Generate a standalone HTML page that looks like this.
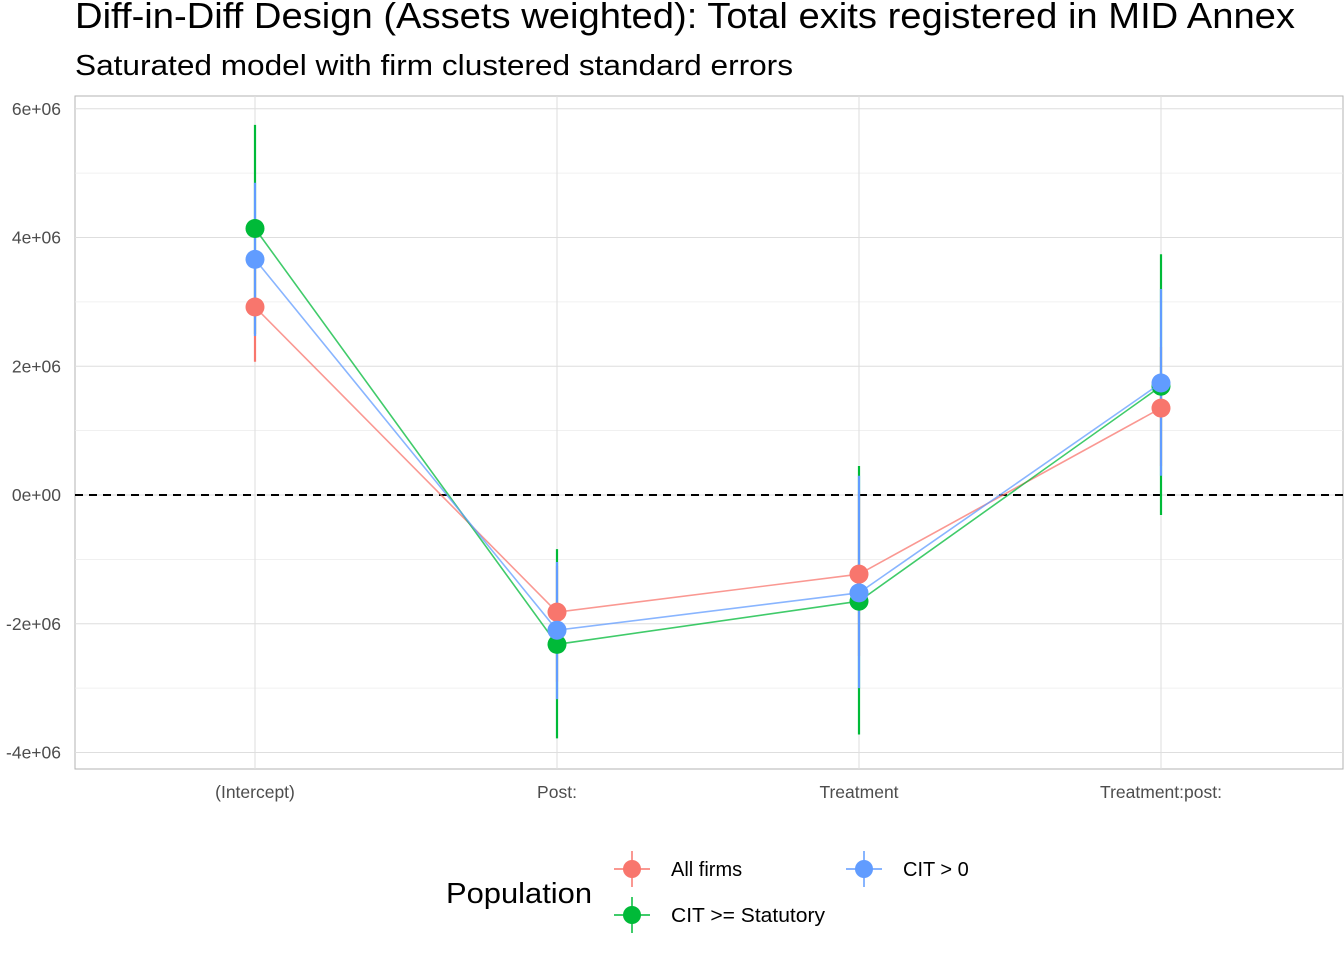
<!DOCTYPE html>
<html><head><meta charset="utf-8"><style>
body{margin:0;background:#fff;width:1344px;height:960px;overflow:hidden}
svg{font-family:"Liberation Sans",sans-serif}
</style></head><body>
<svg id="chart" width="1344" height="960">
<text x="75" y="28" font-size="36" textLength="1220" lengthAdjust="spacingAndGlyphs" fill="#000">Diff-in-Diff Design (Assets weighted): Total exits registered in MID Annex</text>
<text x="75" y="75" font-size="29" textLength="718" lengthAdjust="spacingAndGlyphs" fill="#000">Saturated model with firm clustered standard errors</text>
<rect x="75" y="96" width="1268" height="673" fill="#fff" stroke="#b3b3b3"/>
<g id="grid"></g><g id="marks"></g><g id="axes"></g>
<g>
<text x="446" y="903" font-size="29" textLength="146" lengthAdjust="spacingAndGlyphs">Population</text>
<g><line x1="632" y1="851" x2="632" y2="887" stroke="#F8766D" stroke-width="1.5"/><line x1="614" y1="869" x2="650" y2="869" stroke="#F8766D" stroke-width="1.5"/><circle cx="632" cy="869" r="9" fill="#F8766D"/><text x="671" y="876" font-size="20">All firms</text></g>
<g><line x1="632" y1="897" x2="632" y2="933" stroke="#00BA38" stroke-width="1.5"/><line x1="614" y1="915" x2="650" y2="915" stroke="#00BA38" stroke-width="1.5"/><circle cx="632" cy="915" r="9" fill="#00BA38"/><text x="671" y="922" font-size="20" textLength="154" lengthAdjust="spacingAndGlyphs">CIT &gt;= Statutory</text></g>
<g><line x1="864" y1="851" x2="864" y2="887" stroke="#619CFF" stroke-width="1.5"/><line x1="846" y1="869" x2="882" y2="869" stroke="#619CFF" stroke-width="1.5"/><circle cx="864" cy="869" r="9" fill="#619CFF"/><text x="903" y="876" font-size="20">CIT &gt; 0</text></g>
</g>
</svg>
<script>
const categories=["(Intercept)","Post:","Treatment","Treatment:post:"];
const yTicks=[-4e6,-2e6,0,2e6,4e6,6e6];
const yTickLabels=["-4e+06","-2e+06","0e+00","2e+06","4e+06","6e+06"];
const seriesNames=["All firms","CIT >= Statutory","CIT > 0"];
const allFirmsEst=[2.92e6,-1.82e6,-1.23e6,1.35e6];
const allFirmsLo=[2.07e6,-2.9e6,-2.5e6,0.45e6];
const allFirmsHi=[3.8e6,-1.1e6,0.05e6,2.3e6];
const citStatEst=[4.14e6,-2.32e6,-1.65e6,1.69e6];
const citStatLo=[2.5e6,-3.78e6,-3.72e6,-0.31e6];
const citStatHi=[5.75e6,-0.84e6,0.45e6,3.74e6];
const citPosEst=[3.66e6,-2.1e6,-1.52e6,1.74e6];
const citPosLo=[2.47e6,-3.17e6,-3.0e6,0.3e6];
const citPosHi=[4.85e6,-1.04e6,0.3e6,3.2e6];
const colors=["#F8766D","#00BA38","#619CFF"];
const NS="http://www.w3.org/2000/svg";
function y(v){return 495-v*(128.75/2e6);}
function x(i){return 255+i*302;}
function mk(p,t,a){const e=document.createElementNS(NS,t);for(const k in a)e.setAttribute(k,a[k]);p.appendChild(e);return e;}
const grid=document.getElementById('grid'),marks=document.getElementById('marks'),axes=document.getElementById('axes');
for(let i=0;i<yTicks.length;i++){
 const l=mk(grid,'line',{x1:75,x2:1343,y1:y(yTicks[i]),y2:y(yTicks[i]),stroke:'#dedede','stroke-width':1});
 
 
 if(i<yTicks.length-1){const m=mk(grid,'line',{x1:75,x2:1343,y1:y((yTicks[i]+yTicks[i+1])/2),y2:y((yTicks[i]+yTicks[i+1])/2),stroke:'#ececec','stroke-width':0.8});
 
 }
 const t=mk(axes,'text',{x:61,y:y(yTicks[i])+6,'text-anchor':'end','font-size':17.5,fill:'#4d4d4d'});
 t.textContent=yTickLabels[i];
 
 
}
categories.forEach((c,i)=>{
 const l=mk(grid,'line',{x1:x(i),x2:x(i),y1:96,y2:769,stroke:'#dedede','stroke-width':1});
 
 
 const t=mk(axes,'text',{x:x(i),y:798,'text-anchor':'middle','font-size':17.5,fill:'#4d4d4d'});
 t.textContent=c;
 
 
});
const z=mk(grid,'line',{x1:75,x2:1343,y1:y(0),y2:y(0),stroke:'#000','stroke-width':2,'stroke-dasharray':'8,6'});


const S=[[allFirmsEst,allFirmsLo,allFirmsHi],[citStatEst,citStatLo,citStatHi],[citPosEst,citPosLo,citPosHi]];
const order=[1,0,2];
order.forEach(s=>{S[s][0].forEach((v,i)=>{
 const b=mk(marks,'line',{x1:x(i),x2:x(i),y1:y(S[s][1][i]),y2:y(S[s][2][i]),stroke:colors[s],'stroke-width':2.2});
 
 
});});
[0,1,2].forEach(s=>{
 const p=mk(marks,'polyline',{points:S[s][0].map((v,i)=>x(i)+','+y(v)).join(' '),fill:'none',stroke:colors[s],'stroke-width':1.6,opacity:0.75});
 
 
 S[s][0].forEach((v,i)=>{
  const c=mk(marks,'circle',{cx:x(i),cy:y(v),r:9.5,fill:colors[s]});
  
  
 });
});
</script>
</body></html>
